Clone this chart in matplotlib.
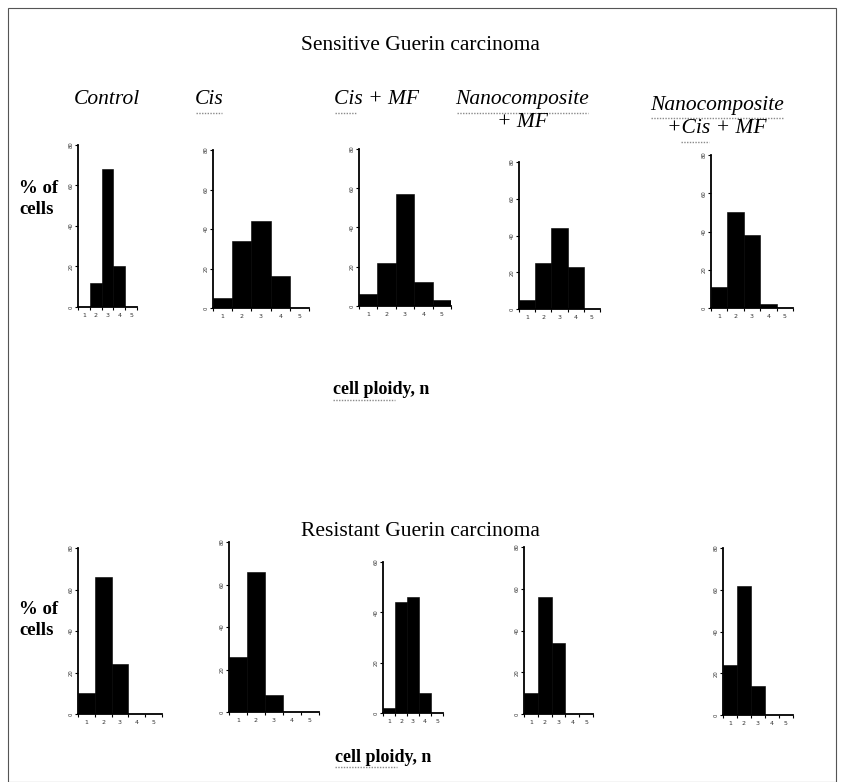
import matplotlib
matplotlib.use("Agg")
import matplotlib.pyplot as plt
from matplotlib.patches import Rectangle
from matplotlib.lines import Line2D

W, H = 843, 782
DPI = 100

# ---------------- data ----------------
ploidy = [1, 2, 3, 4, 5]
ploidy_labels = ["1", "2", "3", "4", "5"]
panel_titles = ["Control", "Cis", "Cis + MF", "Nanocomposite\n+ MF", "Nanocomposite\n+Cis + MF"]

sensitive_control = [0, 12, 68, 20, 0]
sensitive_cis = [5, 34, 44, 16, 0]
sensitive_cis_mf = [6, 22, 57, 12, 3]
sensitive_nano_mf = [5, 25, 44, 23, 0]
sensitive_nano_cis_mf = [11, 50, 38, 2, 0]

resistant_control = [10, 66, 24, 0, 0]
resistant_cis = [26, 66, 8, 0, 0]
resistant_cis_mf = [2, 44, 46, 8, 0]
resistant_nano_mf = [10, 56, 34, 0, 0]
resistant_nano_cis_mf = [24, 62, 14, 0, 0]

sensitive = [sensitive_control, sensitive_cis, sensitive_cis_mf, sensitive_nano_mf, sensitive_nano_cis_mf]
resistant = [resistant_control, resistant_cis, resistant_cis_mf, resistant_nano_mf, resistant_nano_cis_mf]
sensitive_ymax = [80, 80, 80, 80, 80]
resistant_ymax = [80, 80, 60, 80, 80]

# ---------------- layout (pixels) ----------------
# (x_left, x_right, y_top(at ymax), y_bottom(at 0))
sens_boxes = [(78, 137, 145, 307), (213, 309, 150, 308), (359, 451, 149, 306),
              (519, 600, 162, 309), (711, 793, 155, 308)]
res_boxes = [(78, 162, 548, 714), (229, 319, 542, 712), (383, 443, 562, 713),
             (524, 593, 547, 714), (723, 793, 548, 715)]

fig = plt.figure(figsize=(W / DPI, H / DPI), dpi=DPI)
fig.patch.set_facecolor("white")

serif = ["Liberation Serif", "DejaVu Serif"]


def px_axes(box):
    x0, x1, yt, yb = box
    return fig.add_axes([x0 / W, 1 - yb / H, (x1 - x0) / W, (yb - yt) / H])


def draw_panel(box, values, ymax):
    ax = px_axes(box)
    ax.bar(ploidy, values, width=1.0, color="black", edgecolor="black", linewidth=0.4)
    ax.set_xlim(0.5, 5.5)
    ax.set_ylim(0, ymax)
    for s in ("top", "right"):
        ax.spines[s].set_visible(False)
    for s in ("left", "bottom"):
        ax.spines[s].set_linewidth(1.3)
        ax.spines[s].set_color("black")
    ax.set_xticks(ploidy)
    ax.set_xticklabels(ploidy_labels, fontsize=4.5, color="#333333")
    ax.set_xticks([0.5, 1.5, 2.5, 3.5, 4.5, 5.5], minor=True)
    ax.tick_params(axis="x", which="major", length=0, pad=4)
    ax.tick_params(axis="x", which="minor", length=2, width=0.8, direction="out")
    yt = list(range(0, ymax + 1, 20))
    ax.set_yticks(yt)
    ax.set_yticklabels([str(v) for v in yt], fontsize=3.8, rotation=90, va="center", color="#333333")
    ax.tick_params(axis="y", length=2, width=0.8, pad=1)
    ax.patch.set_alpha(0)
    return ax


for box, vals, ym in zip(sens_boxes, sensitive, sensitive_ymax):
    draw_panel(box, vals, ym)
for box, vals, ym in zip(res_boxes, resistant, resistant_ymax):
    draw_panel(box, vals, ym)


def ftext(x, y, s, **kw):
    fig.text(x / W, 1 - y / H, s, **kw)


def squiggle(x0, x1, y):
    # spell-check style dotted underline
    fig.add_artist(Line2D([x0 / W, x1 / W], [1 - y / H, 1 - y / H], transform=fig.transFigure,
                          color="#8a8a8a", linewidth=1.0, linestyle=(0, (1, 1))))


ftext(420, 45, "Sensitive Guerin carcinoma", fontsize=15.5, family=serif, ha="center", va="center")
ftext(420, 531, "Resistant Guerin carcinoma", fontsize=15.5, family=serif, ha="center", va="center")

title_pos = [(107, 100), (209, 100), (377, 100), (522, 111), (717, 117)]
for (x, y), t in zip(title_pos, panel_titles):
    ftext(x, y, t, fontsize=15.5, family=serif, style="italic", ha="center", va="center",
          linespacing=1.25)

squiggle(196, 222, 113)
squiggle(335, 357, 113)
squiggle(457, 588, 113)
squiggle(651, 784, 118)
squiggle(681, 709, 142)

for y in (199, 620):
    ftext(19, y, "% of\ncells", fontsize=13.5, family=serif, weight="bold", ha="left", va="center",
          linespacing=1.3)

ftext(381, 390, "cell ploidy, n", fontsize=13, family=serif, weight="bold", ha="center", va="center")
ftext(383, 757, "cell ploidy, n", fontsize=13, family=serif, weight="bold", ha="center", va="center")
squiggle(333, 395, 400)
squiggle(335, 397, 767)

# outer frame
fig.add_artist(Rectangle((8 / W, 0), (836 - 8) / W, 1 - 8 / H, transform=fig.transFigure,
                         fill=False, edgecolor="#555555", linewidth=0.8))

fig.savefig("out.png", dpi=DPI, facecolor="white")
